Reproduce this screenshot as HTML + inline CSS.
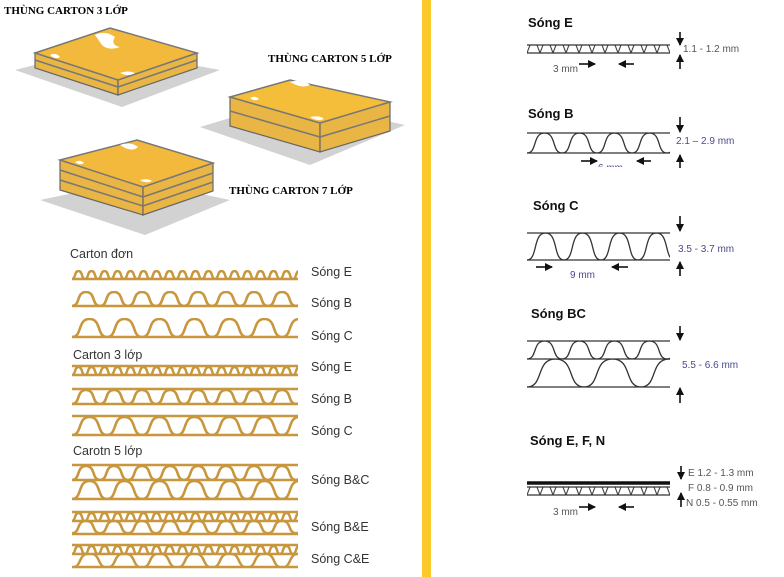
<!DOCTYPE html>
<html><head><meta charset="utf-8"><style>
html,body{margin:0;padding:0;background:#fff;}
svg{display:block}
.l{font-family:"Liberation Sans",sans-serif;font-size:12.5px;fill:#333}
.t{font-family:"Liberation Sans",sans-serif;font-size:13px;font-weight:bold;fill:#111}
.m{font-family:"Liberation Sans",sans-serif;font-size:10px;fill:#555}
.mb{font-family:"Liberation Sans",sans-serif;font-size:10px;fill:#4a4a8a}
.bx{font-family:"Liberation Serif",serif;font-size:11px;font-weight:bold;fill:#000}
</style></head><body>
<svg width="784" height="577" viewBox="0 0 784 577" xmlns="http://www.w3.org/2000/svg">
<defs>
<pattern id="pE" patternUnits="userSpaceOnUse" width="13" height="10"><path d="M0,9 C3.9,9 2,1 6.5,1 C11,1 9.1,9 13,9" fill="none" stroke="#c8963c" stroke-width="2.4"/></pattern>
<pattern id="pB" patternUnits="userSpaceOnUse" width="28" height="16"><path d="M0,15 C8.4,15 4.2,1 14,1 C23.8,1 19.6,15 28,15" fill="none" stroke="#c8963c" stroke-width="2.6"/></pattern>
<pattern id="pC" patternUnits="userSpaceOnUse" width="35" height="20"><path d="M0,19 C10.5,19 5.25,1 17.5,1 C29.75,1 24.5,19 35,19" fill="none" stroke="#c8963c" stroke-width="2.6"/></pattern>
<pattern id="dE" patternUnits="userSpaceOnUse" width="13" height="8"><path d="M0,8 L3,0 L10,0 L13,8" fill="none" stroke="#444" stroke-width="1.1"/></pattern>
<pattern id="dB" patternUnits="userSpaceOnUse" width="35" height="20"><path d="M0,20 C10.5,20 5.25,0 17.5,0 C29.75,0 24.5,20 35,20" fill="none" stroke="#333" stroke-width="1.3"/></pattern>
<pattern id="dC" patternUnits="userSpaceOnUse" width="37" height="27"><path d="M0,27 C11,27 5.5,0 18.5,0 C31.5,0 26,27 37,27" fill="none" stroke="#333" stroke-width="1.3"/></pattern>
<pattern id="dB2" patternUnits="userSpaceOnUse" width="35" height="18"><path d="M0,18 C10.5,18 5.25,0 17.5,0 C29.75,0 24.5,18 35,18" fill="none" stroke="#333" stroke-width="1.3"/></pattern>
<pattern id="dC2" patternUnits="userSpaceOnUse" width="57" height="28"><path d="M0,28 C17,28 8.5,0 28.5,0 C48.5,0 40,28 57,28" fill="none" stroke="#333" stroke-width="1.3"/></pattern>
<marker id="ah" markerWidth="8" markerHeight="8" refX="7" refY="4" orient="auto" markerUnits="userSpaceOnUse"><path d="M0,0 L8,4 L0,8 Z" fill="#111"/></marker>
</defs>

<rect x="422" y="0" width="9" height="577" fill="#fbc929"/>

<!-- Box 1 -->
<polygon points="15,70 100,48 220,70 122,107" fill="#d2d2d2"/>
<polygon points="35,53 118,80 118,95 35,68" fill="#e9b544" stroke="#666" stroke-width="1.2"/>
<polygon points="118,80 197,53 197,68 118,95" fill="#e9b544" stroke="#666" stroke-width="1.2"/>
<line x1="35" y1="60" x2="118" y2="87" stroke="#777" stroke-width="1.5"/>
<line x1="118" y1="87" x2="197" y2="60" stroke="#777" stroke-width="1.5"/>
<polygon points="35,53 110,28 197,53 118,80" fill="#f3b93c" stroke="#777" stroke-width="1.5"/>
<path d="M95,35 q10,-5 20,2 q-5,8 5,10 q-12,4 -18,-2z M120,73 q8,-3 15,0 q-6,4 -15,0z M50,55 q6,-3 10,2 q-5,3 -10,-2z" fill="#fff"/>
<text class="bx" x="4" y="14">THÙNG CARTON 3 LỚP</text>

<!-- Box 2 -->
<polygon points="200,127 290,100 405,125 310,165" fill="#d2d2d2"/>
<polygon points="230,97 320,123 320,152 230,126" fill="#e9b544" stroke="#666" stroke-width="1.2"/>
<polygon points="320,123 390,102 390,131 320,152" fill="#e9b544" stroke="#666" stroke-width="1.2"/>
<line x1="230" y1="111" x2="320" y2="137" stroke="#777" stroke-width="1.5"/>
<line x1="320" y1="137" x2="390" y2="116" stroke="#777" stroke-width="1.5"/>
<polygon points="230,97 290,80 390,102 320,123" fill="#f4bd3a" stroke="#777" stroke-width="1.5"/>
<path d="M290,82 q12,-4 20,3 q-8,4 -20,-3z M310,117 q10,-2 14,2 q-7,3 -14,-2z M250,98 q5,-3 9,1 q-4,3 -9,-1z" fill="#fff"/>
<text class="bx" x="268" y="62">THÙNG CARTON 5 LỚP</text>

<!-- Box 3 -->
<polygon points="40,200 135,180 230,200 145,235" fill="#d2d2d2"/>
<polygon points="60,160 143,187 143,215 60,190" fill="#e9b544" stroke="#666" stroke-width="1.2"/>
<polygon points="143,187 213,163 213,191 143,215" fill="#e9b544" stroke="#666" stroke-width="1.2"/>
<line x1="60" y1="170" x2="143" y2="197" stroke="#777" stroke-width="1.5"/>
<line x1="60" y1="180" x2="143" y2="206" stroke="#777" stroke-width="1.5"/>
<line x1="143" y1="197" x2="213" y2="173" stroke="#777" stroke-width="1.5"/>
<line x1="143" y1="206" x2="213" y2="182" stroke="#777" stroke-width="1.5"/>
<polygon points="60,160 137,140 213,163 143,187" fill="#f2b93c" stroke="#777" stroke-width="1.5"/>
<path d="M120,145 q10,-4 18,2 q-6,6 -18,-2z M140,180 q8,-2 12,1 q-6,3 -12,-1z M75,162 q5,-3 9,1 q-4,3 -9,-1z" fill="#fff"/>
<text class="bx" x="229" y="194">THÙNG CARTON 7 LỚP</text>

<!-- Left wave diagrams -->
<g transform="translate(72,270)"><rect width="226" height="10" fill="url(#pE)"/></g>
<g transform="translate(72,291)"><rect width="226" height="16" fill="url(#pB)"/></g>
<g transform="translate(72,318)"><rect width="226" height="20" fill="url(#pC)"/></g>
<g transform="translate(72,366)"><rect width="226" height="10" fill="url(#pE)"/></g>
<g transform="translate(72,389)"><rect width="226" height="16" fill="url(#pB)"/></g>
<g transform="translate(72,416)"><rect width="226" height="20" fill="url(#pC)"/></g>
<g transform="translate(72,465)"><rect width="226" height="16" fill="url(#pB)"/></g>
<g transform="translate(72,480)"><rect width="226" height="20" fill="url(#pC)"/></g>
<g transform="translate(72,512)"><rect width="226" height="10" fill="url(#pE)"/></g>
<g transform="translate(72,520) scale(1,0.88)"><rect width="226" height="16" fill="url(#pB)"/></g>
<g transform="translate(72,545)"><rect width="226" height="10" fill="url(#pE)"/></g>
<g transform="translate(72,553) scale(1,0.75)"><rect width="226" height="20" fill="url(#pC)"/></g>
<g stroke="#c8963c" stroke-width="2.6">
<line x1="72" y1="279" x2="298" y2="279"/>
<line x1="72" y1="306" x2="298" y2="306"/>
<line x1="72" y1="337" x2="298" y2="337"/>
<line x1="72" y1="366" x2="298" y2="366"/><line x1="72" y1="375" x2="298" y2="375"/>
<line x1="72" y1="389" x2="298" y2="389"/><line x1="72" y1="404" x2="298" y2="404"/>
<line x1="72" y1="416" x2="298" y2="416"/><line x1="72" y1="435" x2="298" y2="435"/>
<line x1="72" y1="465" x2="298" y2="465"/><line x1="72" y1="480" x2="298" y2="480"/><line x1="72" y1="499" x2="298" y2="499"/>
<line x1="72" y1="512" x2="298" y2="512"/><line x1="72" y1="521" x2="298" y2="521"/><line x1="72" y1="534" x2="298" y2="534"/>
<line x1="72" y1="545" x2="298" y2="545"/><line x1="72" y1="554" x2="298" y2="554"/><line x1="72" y1="567" x2="298" y2="567"/>
</g>
<text class="l" x="70" y="258">Carton đơn</text>
<text class="l" x="73" y="359">Carton 3 lớp</text>
<text class="l" x="73" y="455">Carotn 5 lớp</text>
<text class="l" x="311" y="276">Sóng E</text>
<text class="l" x="311" y="307">Sóng B</text>
<text class="l" x="311" y="340">Sóng C</text>
<text class="l" x="311" y="371">Sóng E</text>
<text class="l" x="311" y="403">Sóng B</text>
<text class="l" x="311" y="435">Sóng C</text>
<text class="l" x="311" y="484">Sóng B&amp;C</text>
<text class="l" x="311" y="531">Sóng B&amp;E</text>
<text class="l" x="311" y="563">Sóng C&amp;E</text>

<!-- Right diagrams -->
<text class="t" x="528" y="27">Sóng E</text>
<text class="t" x="528" y="118">Sóng B</text>
<text class="t" x="533" y="210">Sóng C</text>
<text class="t" x="531" y="318">Sóng BC</text>
<text class="t" x="530" y="445">Sóng E, F, N</text>
<g transform="translate(527,45)"><rect width="143" height="8" fill="url(#dE)"/></g>
<g transform="translate(527,133)"><rect width="143" height="20" fill="url(#dB)"/></g>
<g transform="translate(527,233)"><rect width="143" height="27" fill="url(#dC)"/></g>
<g transform="translate(527,341)"><rect width="143" height="18" fill="url(#dB2)"/></g>
<g transform="translate(527,359)"><rect width="143" height="28" fill="url(#dC2)"/></g>
<g transform="translate(527,487)"><rect width="143" height="8" fill="url(#dE)"/></g>
<g stroke="#333" stroke-width="1.3">
<line x1="527" y1="45" x2="670" y2="45"/><line x1="527" y1="53" x2="670" y2="53"/>
<line x1="527" y1="133" x2="670" y2="133"/><line x1="527" y1="153" x2="670" y2="153"/>
<line x1="527" y1="233" x2="670" y2="233"/><line x1="527" y1="260" x2="670" y2="260"/>
<line x1="527" y1="341" x2="670" y2="341"/><line x1="527" y1="359" x2="670" y2="359"/><line x1="527" y1="387" x2="670" y2="387"/>
<line x1="527" y1="483" x2="670" y2="483" stroke-width="3.5" stroke="#111"/>
<line x1="527" y1="487" x2="670" y2="487"/><line x1="527" y1="495" x2="670" y2="495"/>
</g>
<g stroke="#111" stroke-width="1.6" marker-end="url(#ah)">
<line x1="680" y1="32" x2="680" y2="45"/><line x1="680" y1="69" x2="680" y2="55"/>
<line x1="579" y1="64" x2="595" y2="64"/><line x1="634" y1="64" x2="619" y2="64"/>
<line x1="680" y1="117" x2="680" y2="132"/><line x1="680" y1="168" x2="680" y2="155"/>
<line x1="581" y1="161" x2="597" y2="161"/><line x1="651" y1="161" x2="637" y2="161"/>
<line x1="680" y1="216" x2="680" y2="231"/><line x1="680" y1="276" x2="680" y2="262"/>
<line x1="536" y1="267" x2="552" y2="267"/><line x1="628" y1="267" x2="612" y2="267"/>
<line x1="680" y1="326" x2="680" y2="340"/><line x1="680" y1="403" x2="680" y2="388"/>
<line x1="681" y1="466" x2="681" y2="479"/><line x1="681" y1="507" x2="681" y2="493"/>
<line x1="579" y1="507" x2="595" y2="507"/><line x1="634" y1="507" x2="619" y2="507"/>
</g>
<text class="m" x="683" y="52">1.1  -  1.2 mm</text>
<text class="m" x="553" y="72">3 mm</text>
<text class="mb" x="676" y="144">2.1  –  2.9 mm</text>
<text class="mb" x="598" y="171">6 mm</text>
<rect x="590" y="167" width="70" height="10" fill="#fff"/>
<text class="mb" x="678" y="252">3.5  -  3.7 mm</text>
<text class="mb" x="570" y="278">9 mm</text>
<text class="mb" x="682" y="368">5.5   - 6.6 mm</text>
<text class="m" x="688" y="476">E 1.2  -  1.3 mm</text>
<text class="m" x="688" y="491">F 0.8  -  0.9 mm</text>
<text class="m" x="686" y="506">N 0.5  -  0.55 mm</text>
<text class="m" x="553" y="515">3 mm</text>
</svg>
</body></html>
